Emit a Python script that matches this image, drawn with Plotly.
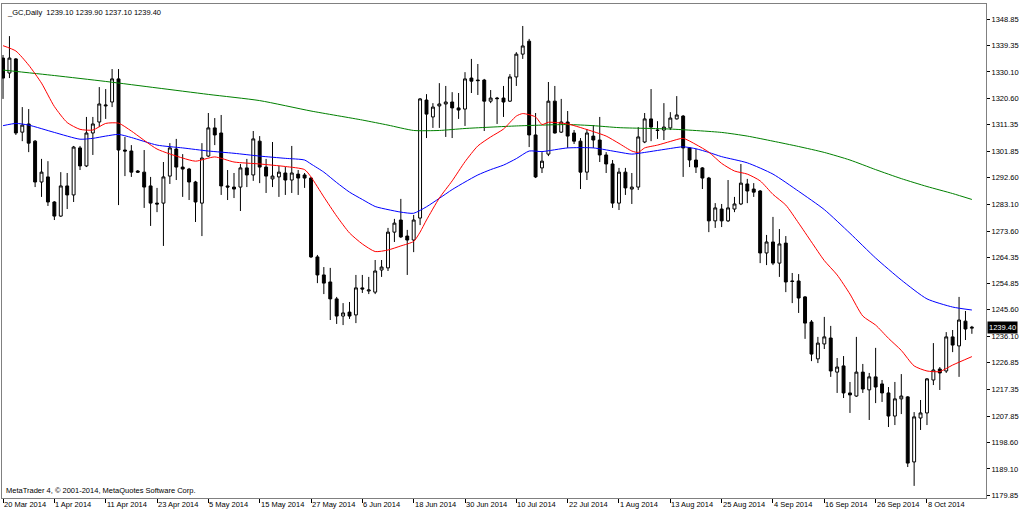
import plotly.graph_objects as go

# ---------------- data ----------------
date_labels = ["20 Mar 2014", "1 Apr 2014", "11 Apr 2014", "23 Apr 2014", "5 May 2014",
               "15 May 2014", "27 May 2014", "6 Jun 2014", "18 Jun 2014", "30 Jun 2014",
               "10 Jul 2014", "22 Jul 2014", "1 Aug 2014", "13 Aug 2014", "25 Aug 2014",
               "4 Sep 2014", "16 Sep 2014", "26 Sep 2014", "8 Oct 2014"]
date_label_bars = [0, 8, 16, 24, 32, 40, 48, 56, 64, 72, 80, 88, 96, 104, 112, 120, 128, 136, 144]

price_ticks = [1348.85, 1339.35, 1330.10, 1320.60, 1311.35, 1301.85, 1292.60, 1283.10, 1273.60,
               1264.35, 1254.85, 1245.60, 1236.10, 1226.85, 1217.35, 1207.85, 1198.60, 1189.10, 1179.85]

opens = [1335.0, 1329.7, 1334.7, 1308.7, 1311.6, 1305.5, 1291.0, 1292.8, 1283.9, 1278.9,
         1289.6, 1286.4, 1303.1, 1296.7, 1308.4, 1312.3, 1318.0, 1319.4, 1327.6, 1302.35,
         1302.0, 1294.9, 1294.5, 1289.6, 1283.5, 1283.5, 1293.1, 1302.7, 1296.3, 1295.6,
         1291.0, 1283.5, 1300.2, 1310.2, 1308.4, 1289.6, 1289.2, 1289.2, 1296.0, 1293.5,
         1305.5, 1296.3, 1292.1, 1292.8, 1294.2, 1291.7, 1293.8, 1293.5, 1292.4, 1264.4,
         1258.0, 1255.5, 1249.5, 1243.4, 1244.8, 1243.8, 1253.4, 1252.3, 1251.9, 1259.75,
         1260.5, 1273.2, 1277.5, 1271.8, 1270.4, 1278.2, 1320.1, 1314.1, 1318.0, 1318.7,
         1319.4, 1317.3, 1316.9, 1327.9, 1327.2, 1327.2, 1319.7, 1320.8, 1320.8, 1319.7,
         1328.3, 1336.4, 1341.0, 1307.7, 1296.0, 1300.9, 1319.7, 1308.7, 1312.3, 1308.4,
         1305.5, 1294.5, 1307.3, 1305.9, 1300.6, 1297.4, 1283.5, 1294.5, 1288.5, 1289.2,
         1305.2, 1313.4, 1309.45, 1309.45, 1310.2, 1313.4, 1314.4, 1303.1, 1298.8, 1296.0,
         1292.4, 1277.2, 1281.4, 1277.2, 1281.4, 1283.2, 1290.3, 1288.5, 1287.8, 1265.8,
         1269.7, 1262.2, 1269.3, 1255.85, 1255.85, 1250.2, 1241.3, 1228.2, 1233.5, 1235.6,
         1223.5, 1225.7, 1216.1, 1215.0, 1223.5, 1217.2, 1221.8, 1219.3, 1216.1, 1207.9,
         1214.0, 1214.7, 1191.6, 1207.2, 1209.0, 1220.7, 1224.6, 1223.9, 1236.0, 1232.8,
         1241.6, 1239.10]

highs = [1336.1, 1342.8, 1335.0, 1317.6, 1316.9, 1305.9, 1299.2, 1298.4, 1284.2, 1294.5,
         1294.2, 1303.8, 1303.8, 1314.1, 1314.1, 1324.7, 1324.0, 1331.1, 1331.1, 1307.0,
         1304.1, 1295.25, 1302.35, 1292.8, 1288.9, 1298.1, 1304.8, 1306.3, 1300.9, 1296.0,
         1291.4, 1304.8, 1315.5, 1313.7, 1314.8, 1295.25, 1294.2, 1297.4, 1299.2, 1309.1,
         1307.3, 1299.2, 1305.2, 1296.7, 1296.3, 1303.8, 1295.25, 1294.2, 1292.8, 1265.1,
         1260.8, 1260.5, 1250.2, 1248.0, 1248.4, 1258.0, 1258.0, 1257.3, 1263.3, 1263.3,
         1274.7, 1277.9, 1285.0, 1274.0, 1279.3, 1320.8, 1322.2, 1319.0, 1326.1, 1325.1,
         1322.9, 1322.6, 1330.0, 1334.7, 1332.9, 1327.6, 1323.65, 1321.2, 1325.1, 1329.3,
         1337.1, 1346.4, 1341.8, 1315.5, 1301.6, 1326.5, 1325.1, 1320.5, 1316.2, 1309.45,
         1306.6, 1309.8, 1311.2, 1314.1, 1301.6, 1298.8, 1296.0, 1296.0, 1294.2, 1310.5,
         1315.5, 1324.0, 1312.6, 1319.0, 1315.8, 1321.5, 1314.8, 1303.4, 1302.7, 1296.3,
         1292.8, 1283.5, 1283.2, 1291.7, 1285.7, 1297.4, 1292.1, 1290.6, 1288.15, 1272.2,
         1278.6, 1274.3, 1271.8, 1258.7, 1258.3, 1250.5, 1242.0, 1236.0, 1243.1, 1239.9,
         1228.5, 1229.2, 1220.0, 1236.0, 1226.4, 1223.2, 1232.1, 1220.7, 1218.2, 1220.0,
         1222.8, 1215.0, 1209.3, 1213.6, 1221.4, 1233.8, 1225.3, 1237.7, 1238.45, 1250.2,
         1245.2, 1239.90]

lows = [1320.5, 1327.9, 1307.7, 1305.5, 1301.6, 1289.2, 1285.7, 1282.5, 1277.5, 1278.6,
        1281.4, 1283.9, 1295.25, 1296.3, 1300.6, 1310.5, 1313.4, 1317.6, 1282.8, 1293.1,
        1292.8, 1294.2, 1281.8, 1275.4, 1280.3, 1268.3, 1290.3, 1291.7, 1285.7, 1284.6,
        1276.8, 1271.8, 1299.9, 1304.1, 1286.4, 1284.6, 1285.3, 1280.7, 1289.2, 1291.4,
        1290.6, 1287.1, 1289.2, 1285.7, 1286.4, 1287.1, 1286.4, 1288.9, 1264.0, 1255.1,
        1251.2, 1242.0, 1240.6, 1240.2, 1242.4, 1240.9, 1251.6, 1251.2, 1251.2, 1257.3,
        1259.4, 1269.7, 1271.1, 1258.0, 1266.1, 1275.7, 1306.6, 1310.2, 1310.2, 1307.0,
        1306.6, 1313.4, 1310.9, 1322.6, 1321.9, 1309.1, 1319.0, 1311.6, 1314.1, 1319.4,
        1325.1, 1334.7, 1303.4, 1292.4, 1294.2, 1300.2, 1308.2, 1308.4, 1303.1, 1304.5,
        1288.5, 1291.7, 1303.1, 1298.1, 1294.2, 1281.8, 1281.05, 1286.4, 1283.2, 1288.15,
        1304.8, 1305.5, 1306.3, 1305.9, 1309.45, 1313.2, 1292.8, 1296.3, 1294.2, 1288.5,
        1273.2, 1274.7, 1275.0, 1276.8, 1280.3, 1282.8, 1283.5, 1285.7, 1262.2, 1261.5,
        1261.5, 1257.3, 1251.9, 1248.0, 1244.5, 1235.3, 1227.4, 1226.7, 1231.7, 1221.8,
        1216.1, 1214.3, 1209.0, 1214.7, 1216.1, 1206.5, 1212.5, 1212.9, 1204.0, 1204.7,
        1208.6, 1189.8, 1183.1, 1202.95, 1204.7, 1218.9, 1217.15, 1223.2, 1230.6, 1221.8,
        1234.9, 1237.10]

closes = [1327.9, 1335.0, 1308.4, 1311.2, 1304.8, 1291.0, 1294.5, 1283.9, 1278.9, 1289.6,
          1286.4, 1303.4, 1296.7, 1308.4, 1311.6, 1318.7, 1318.3, 1327.6, 1302.35, 1302.0,
          1294.5, 1294.5, 1289.2, 1283.5, 1283.2, 1292.8, 1303.1, 1296.3, 1295.6, 1291.0,
          1283.9, 1299.5, 1310.2, 1307.7, 1289.6, 1289.2, 1288.5, 1296.0, 1293.5, 1306.3,
          1296.3, 1293.1, 1293.1, 1294.5, 1291.7, 1294.2, 1292.4, 1292.4, 1264.4, 1258.0,
          1255.1, 1249.5, 1243.4, 1244.5, 1243.4, 1253.4, 1253.0, 1252.65, 1259.4, 1260.8,
          1273.2, 1276.4, 1271.5, 1270.4, 1277.5, 1320.5, 1315.1, 1317.6, 1318.7, 1319.4,
          1317.3, 1316.55, 1327.6, 1326.8, 1327.0, 1319.7, 1320.8, 1320.6, 1319.4, 1328.3,
          1336.4, 1339.3, 1307.7, 1292.8, 1298.4, 1319.7, 1308.4, 1312.3, 1307.3, 1305.5,
          1294.5, 1308.4, 1305.9, 1300.6, 1297.4, 1283.5, 1294.5, 1288.9, 1289.2, 1307.0,
          1313.4, 1310.5, 1309.3, 1310.5, 1313.7, 1314.8, 1303.1, 1298.8, 1296.3, 1292.4,
          1277.2, 1281.8, 1277.2, 1281.8, 1283.2, 1290.6, 1287.8, 1287.4, 1265.8, 1269.7,
          1262.2, 1269.0, 1255.5, 1255.7, 1249.8, 1240.9, 1229.9, 1233.8, 1236.0, 1223.9,
          1225.3, 1216.1, 1215.4, 1223.5, 1217.5, 1221.8, 1218.2, 1216.1, 1207.9, 1214.0,
          1215.0, 1191.2, 1207.6, 1209.0, 1221.1, 1224.25, 1223.2, 1236.0, 1233.1, 1242.0,
          1238.8, 1239.40]

red_ma_bars = [0, 2, 4, 6, 8, 10, 12, 14, 16, 18, 20, 24, 28, 30, 33, 36, 40, 44, 47, 48,
               50, 52, 54, 56, 58, 60, 62, 64, 65, 66, 68, 70, 72, 74, 76, 78, 80, 81, 83, 84,
               85, 88, 92, 94, 96, 98, 99, 100, 102, 104, 106, 108, 110, 112, 114, 116, 118, 120,
               122, 124, 126, 128, 130, 132, 134, 136, 138, 140, 142, 144, 146, 148, 151]
red_ma = [1339.4, 1337.5, 1332.5, 1326.1, 1317.8, 1312.1, 1309.7, 1309.45, 1311.8, 1311.9,
          1309.1, 1302.7, 1299.5, 1298.4, 1299.9, 1298.1, 1297.4, 1296.5, 1295.4, 1292.8,
          1285.7, 1278.9, 1272.9, 1269.0, 1266.3, 1266.85, 1268.3, 1269.9, 1273.2, 1277.5,
          1285.3, 1291.4, 1298.2, 1303.8, 1307.0, 1309.8, 1314.4, 1315.3, 1314.1, 1311.4,
          1312.2, 1311.6, 1308.9, 1307.3, 1304.7, 1302.0, 1301.5, 1303.1, 1304.1, 1305.4,
          1306.5, 1304.3, 1301.6, 1297.6, 1294.9, 1293.8, 1291.4, 1286.6, 1282.8, 1276.4,
          1269.7, 1263.1, 1258.0, 1251.2, 1243.4, 1240.2, 1235.5, 1231.2, 1225.7, 1223.9,
          1223.7, 1226.0, 1229.0]

blue_ma_bars = [0, 2, 4, 8, 12, 14, 16, 18, 20, 24, 28, 32, 36, 40, 44, 47, 48, 50, 52, 54,
                56, 58, 60, 62, 64, 66, 68, 70, 72, 74, 76, 78, 80, 82, 84, 88, 92, 96, 98, 100,
                104, 106, 108, 110, 112, 116, 120, 124, 128, 132, 136, 140, 144, 148, 151]
blue_ma = [1311.0, 1311.8, 1311.2, 1308.6, 1306.2, 1306.5, 1307.3, 1307.9, 1306.8, 1304.1,
           1303.1, 1302.0, 1301.2, 1300.2, 1299.4, 1298.8, 1297.4, 1294.5, 1290.8, 1287.4,
           1284.8, 1282.3, 1281.2, 1280.3, 1279.9, 1282.2, 1285.2, 1288.3, 1291.0, 1293.5,
           1295.4, 1297.0, 1299.3, 1302.0, 1301.8, 1303.1, 1303.1, 1301.6, 1300.9, 1301.5,
           1302.9, 1303.5, 1302.8, 1301.5, 1300.0, 1297.8, 1293.8, 1287.7, 1281.2, 1272.8,
           1264.0, 1256.2, 1249.5, 1246.6, 1245.55]

green_ma_bars = [0, 8, 16, 24, 32, 40, 48, 56, 60, 64, 68, 72, 80, 88, 92, 96, 104, 112,
                 116, 120, 124, 128, 132, 136, 140, 144, 148, 151]
green_ma = [1330.75, 1328.8, 1326.7, 1324.4, 1322.1, 1319.9, 1316.2, 1313.0, 1311.2, 1309.3,
            1309.3, 1310.0, 1310.9, 1311.4, 1311.0, 1310.3, 1309.8, 1308.6, 1307.3, 1305.5,
            1303.6, 1301.5, 1298.8, 1295.4, 1292.2, 1289.4, 1286.9, 1284.8]

title_text = "_GC,Daily  1239.10 1239.90 1237.10 1239.40"
footer_text = "MetaTrader 4, \u00a9 2001-2014, MetaQuotes Software Corp."
last_price = 1239.40

# ---------------- figure ----------------
FONT = "Arial"
FSIZE = 7.5
bars = list(range(len(opens)))

fig = go.Figure()
fig.add_trace(go.Scatter(x=green_ma_bars, y=green_ma, mode="lines",
                         line=dict(color="#008000", width=1, shape="spline", smoothing=0.6),
                         hoverinfo="skip"))
fig.add_trace(go.Scatter(x=blue_ma_bars, y=blue_ma, mode="lines",
                         line=dict(color="#0000FF", width=1, shape="spline", smoothing=0.6),
                         hoverinfo="skip"))
fig.add_trace(go.Scatter(x=red_ma_bars, y=red_ma, mode="lines",
                         line=dict(color="#FF0000", width=1, shape="spline", smoothing=0.6),
                         hoverinfo="skip"))
fig.add_trace(go.Candlestick(
    x=bars, open=opens, high=highs, low=lows, close=closes,
    increasing=dict(line=dict(color="#000000", width=1), fillcolor="#FFFFFF"),
    decreasing=dict(line=dict(color="#000000", width=1), fillcolor="#000000"),
    whiskerwidth=0,
))

annotations = []
for b, lab in zip(date_label_bars, date_labels):
    annotations.append(dict(x=b, y=0, xref="x", yref="paper", text=lab, showarrow=False,
                            xanchor="left", yanchor="top", xshift=0, yshift=-1, borderpad=0,
                            font=dict(family=FONT, size=FSIZE, color="#000000")))
annotations.append(dict(x=0, y=1, xref="paper", yref="paper", text=title_text, showarrow=False,
                        xanchor="left", yanchor="top", xshift=4, yshift=-3, borderpad=0,
                        font=dict(family=FONT, size=FSIZE, color="#000000")))
annotations.append(dict(x=0, y=0, xref="paper", yref="paper", text=footer_text, showarrow=False,
                        xanchor="left", yanchor="bottom", xshift=3, yshift=2, borderpad=0,
                        font=dict(family=FONT, size=FSIZE, color="#000000")))
annotations.append(dict(x=1, y=last_price, xref="paper", yref="y", text=f"{last_price:.2f}",
                        showarrow=False, xanchor="left", yanchor="middle", xshift=1,
                        bgcolor="#000000", borderpad=1,
                        font=dict(family=FONT, size=FSIZE, color="#FFFFFF")))

fig.update_layout(
    width=1024, height=512,
    margin=dict(l=2, r=38, t=4, b=14),
    paper_bgcolor="#FFFFFF", plot_bgcolor="#FFFFFF",
    showlegend=False,
    boxgap=0.35,
    annotations=annotations,
    xaxis=dict(range=[-0.16, 153.2], showgrid=False, zeroline=False,
               showline=True, mirror=True, linecolor="#808080", linewidth=1,
               tickvals=date_label_bars, ticks="outside", ticklen=4, tickcolor="#000000",
               showticklabels=False, rangeslider=dict(visible=False), fixedrange=True),
    yaxis=dict(range=[1178.8, 1354.2], side="right", showgrid=False, zeroline=False,
               showline=True, mirror=True, linecolor="#808080", linewidth=1,
               tickvals=price_ticks, ticktext=[f"{v:.2f}" for v in price_ticks],
               ticks="outside", ticklen=3, tickcolor="#000000",
               tickfont=dict(family=FONT, size=FSIZE, color="#000000"), fixedrange=True),
)

fig.write_html("out.html",
               config={"displayModeBar": False, "staticPlot": True},
               post_script="document.body.style.margin='0px';document.body.style.padding='0px';")
